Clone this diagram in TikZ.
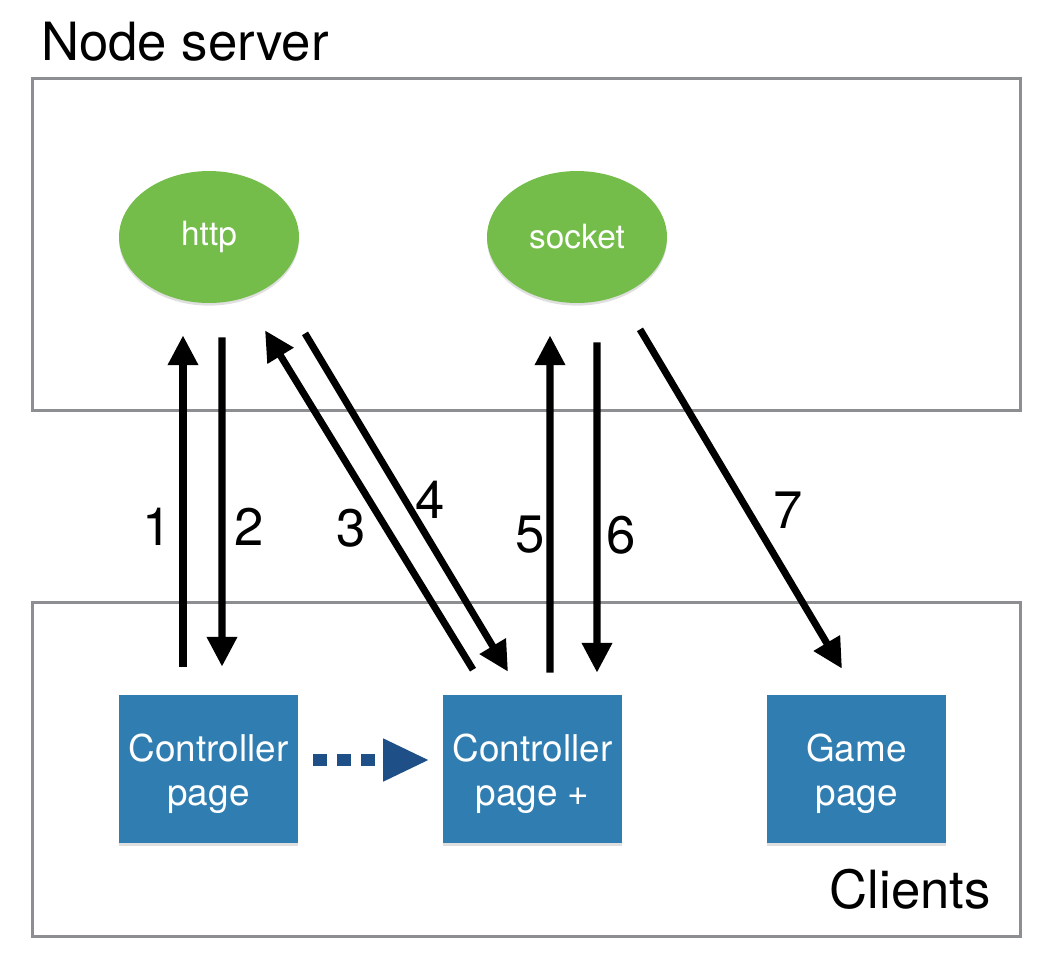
\documentclass[tikz,border=0pt]{standalone}
\usepackage{fontspec}
\setmainfont{TeX Gyre Heros}
\usetikzlibrary{calc,arrows.meta,shapes.geometric,shadows}
\definecolor{frameGray}{RGB}{140,142,146}
\definecolor{srvGreen}{RGB}{116,189,74}
\definecolor{pageBlue}{RGB}{48,125,177}
\definecolor{navBlue}{RGB}{30,80,135}

\begin{document}
\begin{tikzpicture}[x=0.02cm,y=-0.02cm,
  frame/.style={draw=frameGray,line width=1.7pt,rectangle,minimum width=19.78cm,minimum height=6.66cm,inner sep=0},
  srv/.style={ellipse,fill=srvGreen,text=white,minimum width=3.6cm,minimum height=2.64cm,inner sep=0,
    font=\fontsize{19}{23}\selectfont,drop shadow={opacity=0.25,shadow xshift=0pt,shadow yshift=-1.5pt}},
  pg/.style={rectangle,fill=pageBlue,minimum width=3.58cm,minimum height=2.96cm,inner sep=0,
    drop shadow={opacity=0.25,shadow xshift=0pt,shadow yshift=-1.5pt}},
  pgtext/.style={text=white,align=center,inner sep=0,font=\fontsize{21}{25}\selectfont},
  flow/.style={line width=4pt,-{Triangle[length=17pt,width=16.5pt]}},
  num/.style={font=\fontsize{30}{36}\selectfont}]
  \useasboundingbox (0,0) rectangle (1050,958);
  % cadres
  \node[frame] (server) at (526.5,244.5) {};
  \node[frame,minimum height=6.7cm] (clients) at (526.5,769.5) {};
  \node[num,anchor=base west] (srvlabel) at (35,60) {Node server};
  \node[num,anchor=base east] (cltlabel) at (997,908) {Clients};
  % serveur
  \node[srv] (http) at (209,237) {http};
  \node[srv] (socket) at (577,237) {socket};
  % clients
  \node[pg] (cp) at (208.5,769) {};
  \node[pg] (cpp) at (532.5,769) {};
  \node[pg] (gp) at (856.5,769) {};
  \node[pgtext] (cptxt) at ($(cp)+(0,5)$) {Controller\\page};
  \node[pgtext] (cpptxt) at ($(cpp)+(0,5)$) {Controller\\page +};
  \node[pgtext] (gptxt) at ($(gp)+(0,5)$) {Game\\page};
  % echanges
  \draw[flow] ($(cp.north)+(-25.5,-28)$) -- ($(http.south)+(-26,32)$);
  \draw[flow] ($(http.south)+(13,34)$) -- ($(cp.north)+(13.5,-28)$);
  \draw[flow] ($(cpp.north)+(-59.5,-25)$) -- ($(http.south)+(56,27)$);
  \draw[flow] ($(http.south)+(96,30)$) -- ($(cpp.north)+(-24.5,-23)$);
  \draw[flow] ($(cpp.north)+(17.5,-22)$) -- ($(socket.south)+(-27,32)$);
  \draw[flow] ($(socket.south)+(20,39)$) -- ($(cpp.north)+(64.5,-22)$);
  \draw[flow] ($(socket.south)+(63,26)$) -- ($(gp.north)+(-14.5,-26)$);
  \draw[navBlue,line width=6.8pt,dash pattern=on 8pt off 5.6pt,-{Triangle[length=26.5pt,width=22.5pt]}]
    ($(cp.east)+(15,-9)$) -- ($(cpp.west)+(-13,-9)$);
  % etiquettes
  \node[num] (n1) at (157,527) {1};
  \node[num] (n2) at (249,527) {2};
  \node[num] (n3) at (351,528) {3};
  \node[num] (n4) at (430,500) {4};
  \node[num] (n5) at (530,535) {5};
  \node[num] (n6) at (621,535) {6};
  \node[num] (n7) at (788,510) {7};
\end{tikzpicture}
\end{document}
